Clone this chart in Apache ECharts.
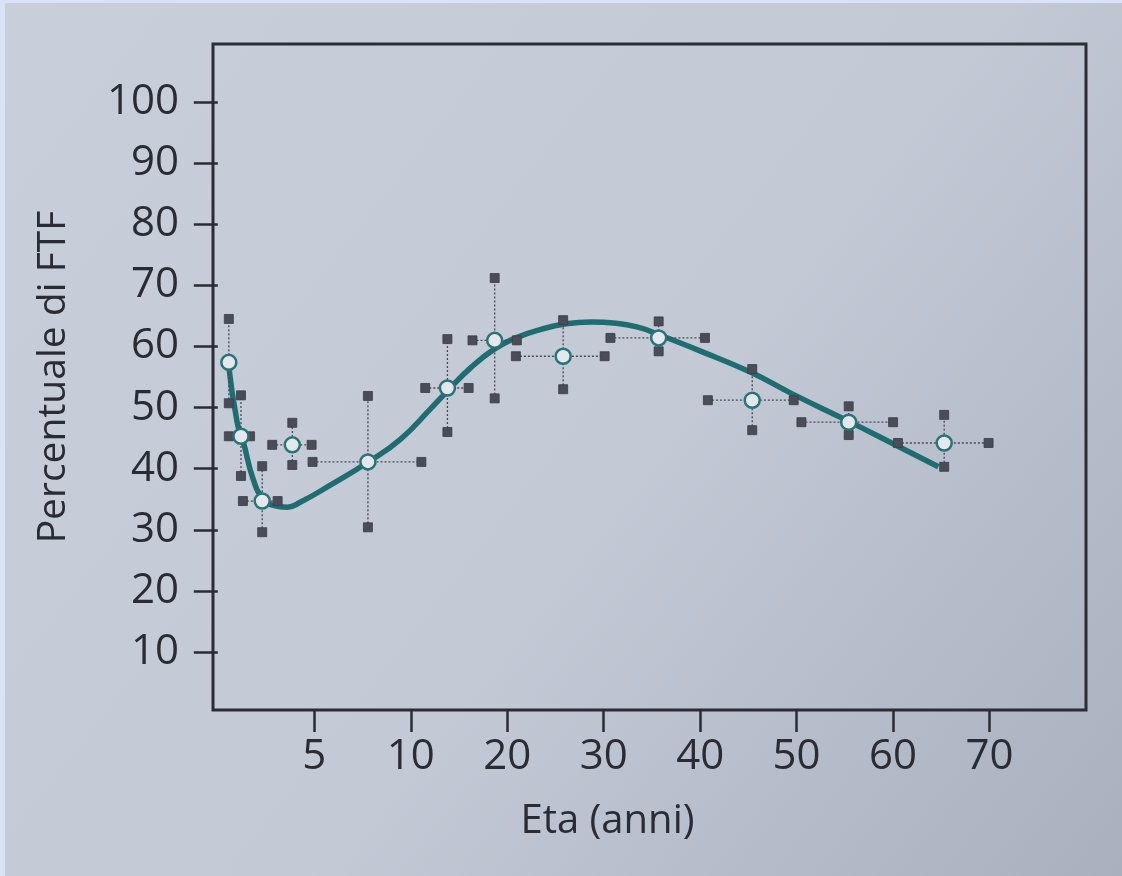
<!DOCTYPE html>
<html>
<head>
<meta charset="utf-8">
<title>Percentuale di FTF per età</title>
<script src="https://cdn.jsdelivr.net/npm/echarts@6/dist/echarts.min.js"></script>
<style>
  html, body { margin: 0; padding: 0; }
  body { width: 1122px; height: 876px; overflow: hidden; background: #c6cdd9; }
  #chart { width: 1117px; height: 873px; border-left: 5px solid #d9e2f6; border-top: 3px solid #d9e2f6; }
</style>
</head>
<body>
<div id="chart"></div>
<script>
// asse x a tratti: 0-10 anni a passo 5, poi a passo 10
const breakAges = [0, 5, 10, 20, 30, 40, 50, 60, 70];
const yTicks = [10, 20, 30, 40, 50, 60, 70, 80, 90, 100];

// medie con barre di errore
const pointAges = [0.57, 1.2, 2.3, 3.86, 7.78, 13.8, 18.7, 25.8, 35.7, 45.4, 55.4, 65.3];
const pointValues = [57.4, 45.3, 34.7, 43.9, 41.1, 53.2, 61.0, 58.4, 61.4, 51.2, 47.6, 44.2];
const yLow = [50.7, 38.8, 29.6, 40.6, 30.4, 46.0, 51.5, 53.0, 59.2, 46.3, 45.5, 40.3];
const yHigh = [64.5, 52.0, 40.4, 47.5, 51.9, 61.2, 71.2, 64.3, 64.1, 56.3, 50.2, 48.8];
const xLow = [null, 0.57, 1.3, 2.82, 4.91, 11.5, 16.4, 20.9, 30.7, 40.8, 50.5, 60.5];
const xHigh = [null, 1.67, 3.1, 4.86, 11.1, 16.0, 21.0, 30.1, 40.5, 49.7, 60.0, 69.9];

// curva interpolante
const curveAges = [0.54, 1.0, 1.31, 1.83, 2.35, 2.87, 3.6, 4.27, 5.83, 7.8, 9.46, 12.0, 13.8, 16.2, 18.7, 20.9, 23.5, 26.1, 28.7, 31.3, 33.9, 35.6, 40.1, 45.2, 49.6, 55.2, 60.1, 64.7];
const curveValues = [57.4, 47.6, 44.5, 38.3, 35.0, 34.0, 33.7, 34.5, 37.3, 41.1, 44.8, 49.7, 52.7, 56.5, 59.6, 61.4, 62.8, 63.7, 64.0, 63.8, 63.0, 62.0, 59.2, 55.8, 52.2, 47.9, 44.0, 40.3];

function ageToPos(a) {
  for (let i = 1; i < breakAges.length; i++) {
    if (a <= breakAges[i]) {
      return i - 1 + (a - breakAges[i - 1]) / (breakAges[i] - breakAges[i - 1]);
    }
  }
  const n = breakAges.length - 1;
  return n + (a - breakAges[n]) / 10;
}

const xTickPos = breakAges.slice(1).map(ageToPos);

const textColor = '#2a2c35';
const font = '"Open Sans", "Noto Sans", sans-serif';

const errData = pointAges.map((a, i) => [
  ageToPos(a), pointValues[i],
  xLow[i] == null ? NaN : ageToPos(xLow[i]),
  xHigh[i] == null ? NaN : ageToPos(xHigh[i]),
  yLow[i], yHigh[i]
]);

function renderErr(params, api) {
  const x = api.value(0), y = api.value(1);
  const children = [];
  const cap = 9;
  const line = { stroke: '#474a55', lineWidth: 1.3, lineDash: [2, 2] };
  const capStyle = { fill: '#4a4d58', stroke: '#3a3c46', lineWidth: 0.8 };
  const pLo = api.coord([x, api.value(4)]);
  const pHi = api.coord([x, api.value(5)]);
  children.push({ type: 'line', shape: { x1: pLo[0], y1: pLo[1], x2: pHi[0], y2: pHi[1] }, style: line });
  children.push({ type: 'rect', shape: { x: pLo[0] - cap / 2, y: pLo[1] - cap / 2, width: cap, height: cap }, style: capStyle });
  children.push({ type: 'rect', shape: { x: pHi[0] - cap / 2, y: pHi[1] - cap / 2, width: cap, height: cap }, style: capStyle });
  if (!isNaN(api.value(2))) {
    const pL = api.coord([api.value(2), y]);
    const pR = api.coord([api.value(3), y]);
    children.push({ type: 'line', shape: { x1: pL[0], y1: pL[1], x2: pR[0], y2: pR[1] }, style: line });
    children.push({ type: 'rect', shape: { x: pL[0] - cap / 2, y: pL[1] - cap / 2, width: cap, height: cap }, style: capStyle });
    children.push({ type: 'rect', shape: { x: pR[0] - cap / 2, y: pR[1] - cap / 2, width: cap, height: cap }, style: capStyle });
  }
  return { type: 'group', children: children };
}

const chart = echarts.init(document.getElementById('chart'));

chart.setOption({
  backgroundColor: {
    type: 'linear', x: 0, y: 0, x2: 1, y2: 1,
    colorStops: [
      { offset: 0, color: '#c8cfdb' },
      { offset: 0.55, color: '#c3cad6' },
      { offset: 1, color: '#a9b0be' }
    ]
  },
  animation: false,
  grid: {
    left: 208, right: 36, top: 41, bottom: 166,
    show: true, borderColor: '#2b2c37', borderWidth: 3
  },
  xAxis: {
    type: 'value',
    min: -0.05, max: 9.0,
    name: 'Eta (anni)',
    nameLocation: 'middle',
    nameGap: 92,
    nameTextStyle: { fontFamily: font, fontSize: 40, color: textColor, padding: [0, 84, 0, 0] },
    axisLine: { show: false },
    splitLine: { show: false },
    axisTick: { customValues: xTickPos, length: 22, lineStyle: { color: textColor, width: 2.5 } },
    axisLabel: {
      customValues: xTickPos,
      margin: 26,
      fontFamily: font, fontSize: 42, color: textColor,
      formatter: v => String(breakAges[Math.round(v)])
    }
  },
  yAxis: {
    type: 'value',
    min: 0.5, max: 109.5,
    name: 'Percentuale di FTF',
    nameLocation: 'middle',
    nameGap: 140,
    nameTextStyle: { fontFamily: font, fontSize: 39, color: textColor },
    axisLine: { show: false },
    splitLine: { show: false },
    axisTick: { customValues: yTicks, length: 24, lineStyle: { color: textColor, width: 2.5 } },
    axisLabel: {
      customValues: yTicks,
      margin: 34,
      fontFamily: font, fontSize: 42, color: textColor
    }
  },
  series: [
    {
      type: 'line',
      data: curveAges.map((a, i) => [ageToPos(a), curveValues[i]]),
      smooth: 0.5,
      symbol: 'none',
      lineStyle: { color: '#1f6d70', width: 5.5 },
      z: 2
    },
    {
      type: 'custom',
      data: errData,
      renderItem: renderErr,
      encode: { x: 0, y: 1 },
      z: 3
    },
    {
      type: 'scatter',
      data: pointAges.map((a, i) => [ageToPos(a), pointValues[i]]),
      symbol: 'circle',
      symbolSize: 15,
      itemStyle: { color: '#e3e8ef', borderColor: '#2a7376', borderWidth: 2.5, opacity: 1 },
      z: 4
    }
  ]
});
</script>
</body>
</html>
